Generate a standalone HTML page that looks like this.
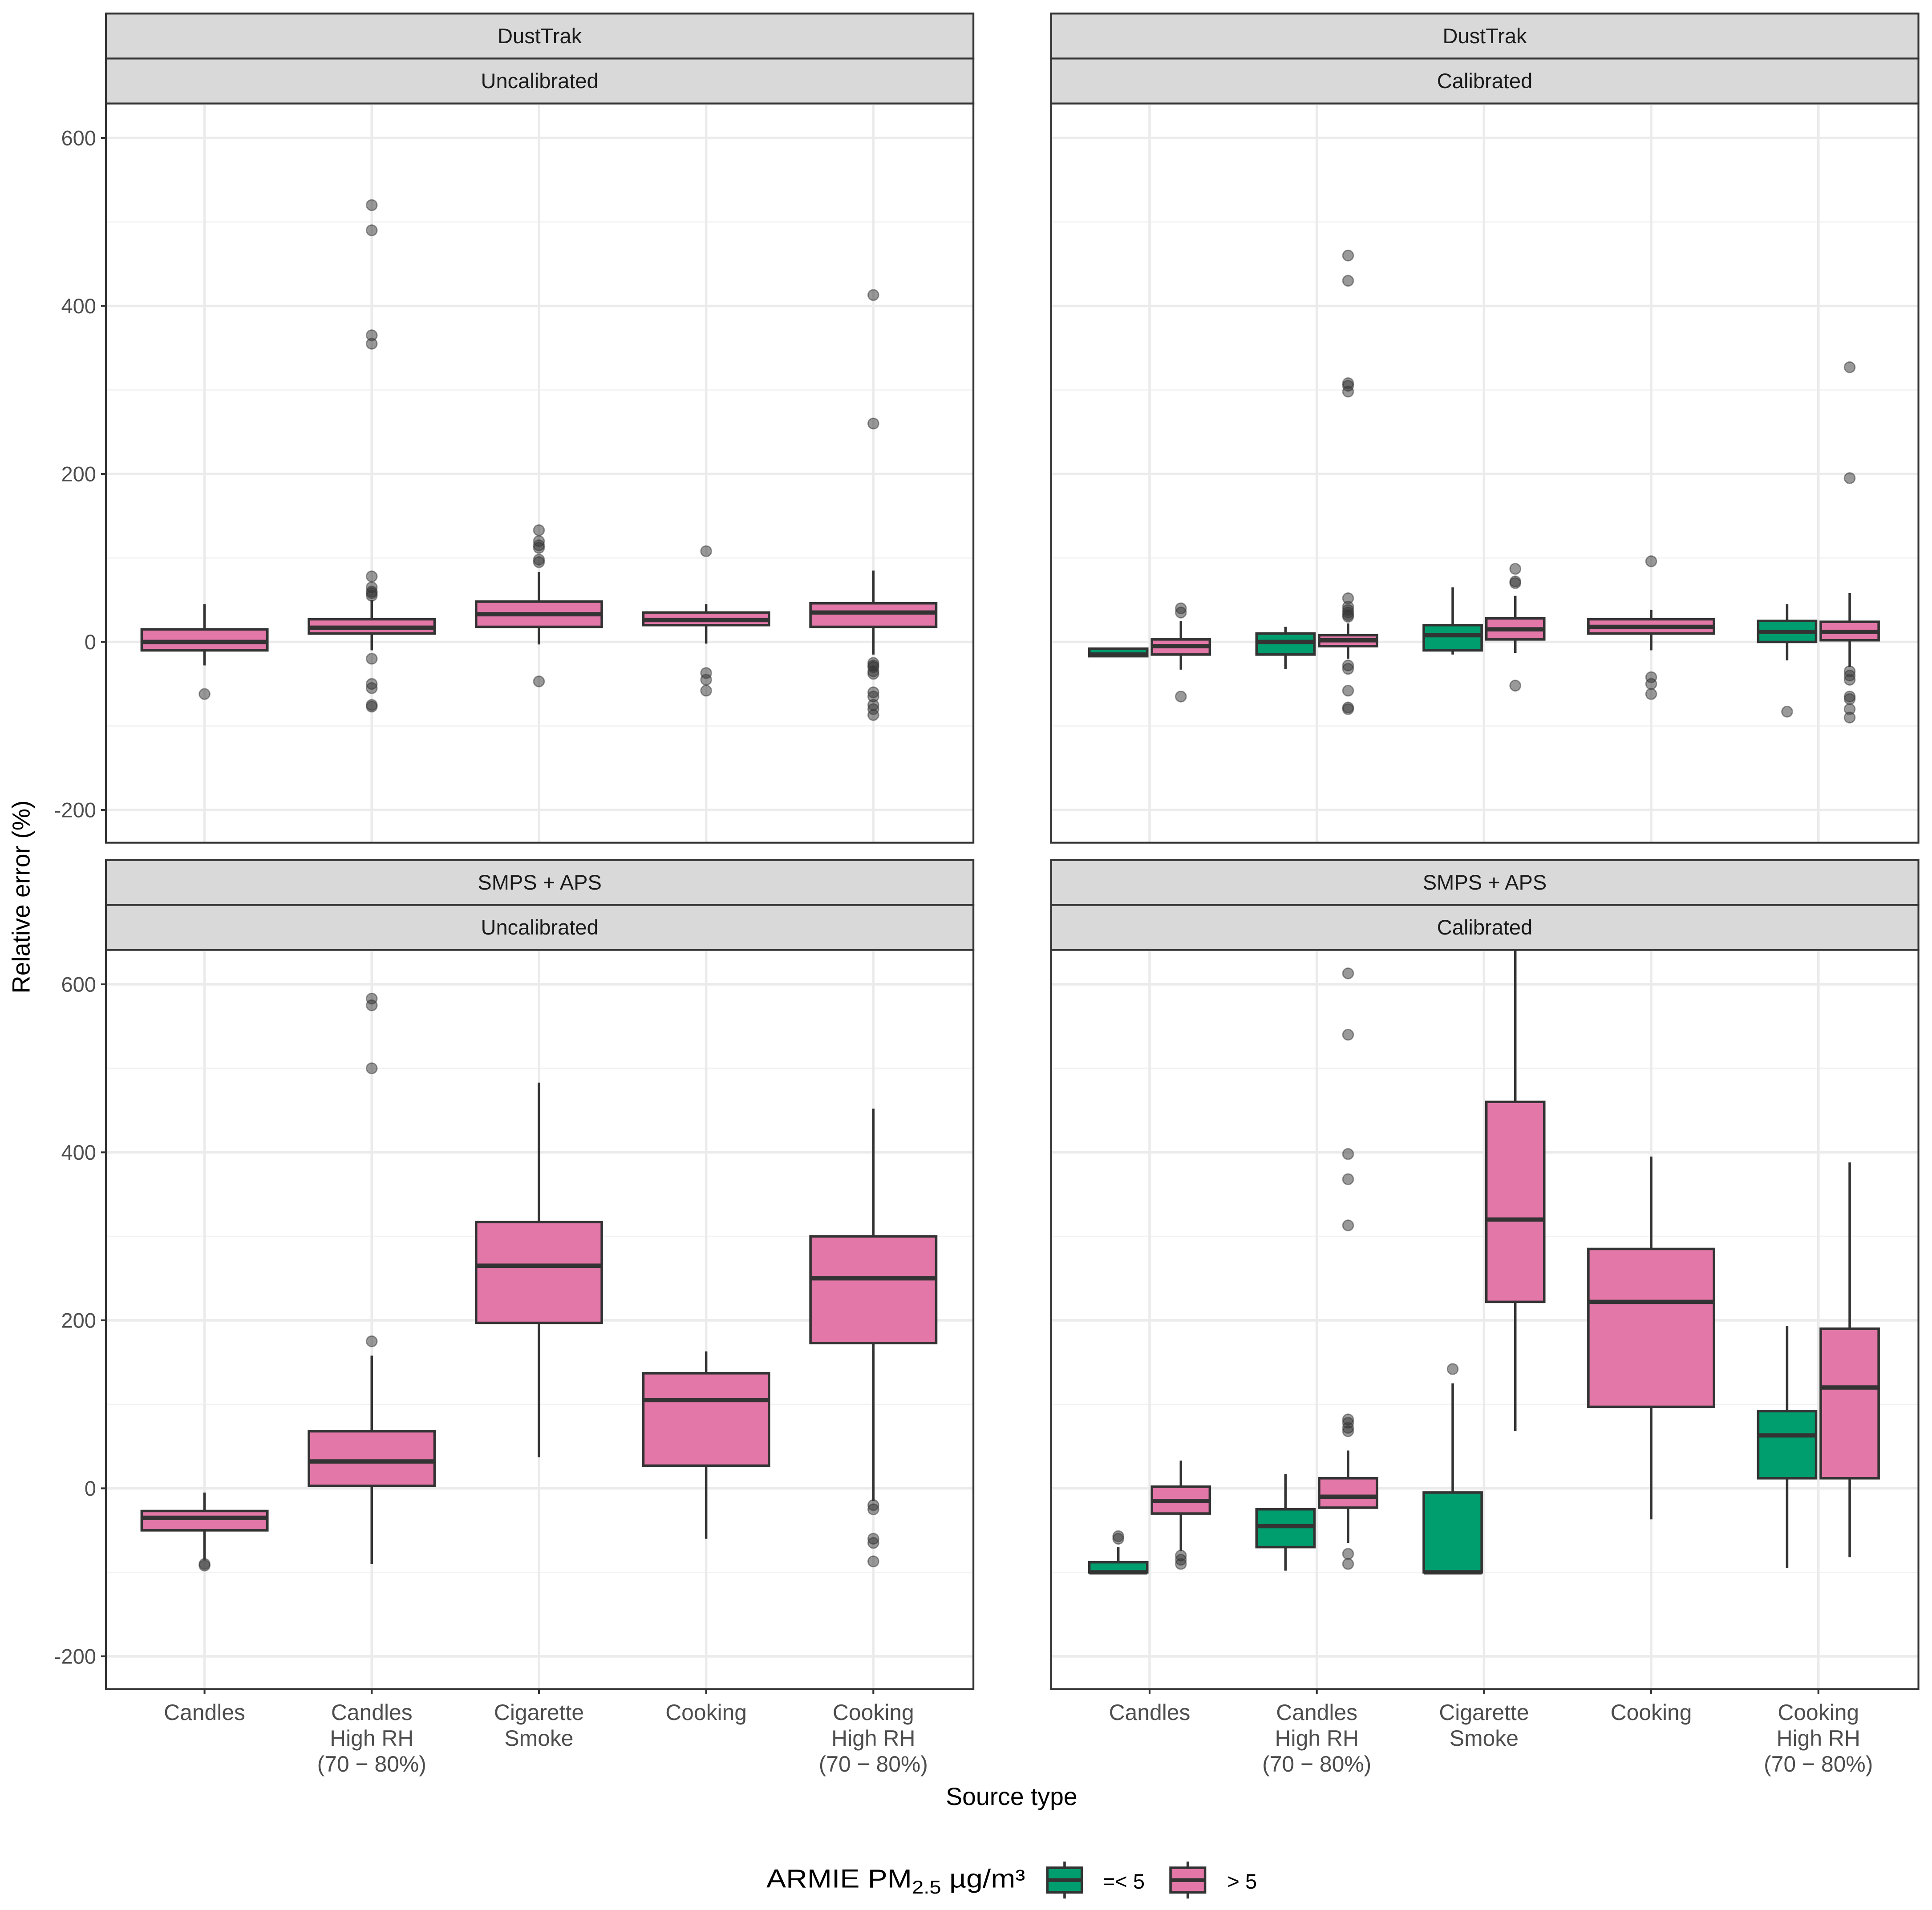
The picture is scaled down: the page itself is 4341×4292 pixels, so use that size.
<!DOCTYPE html>
<html><head><meta charset="utf-8"><style>
html,body{margin:0;padding:0;background:#fff}
svg{display:block;font-family:"Liberation Sans",sans-serif}
</style></head><body>
<svg id="chart" width="4341" height="4292" viewBox="0 0 1568 1550.3" xmlns="http://www.w3.org/2000/svg">
<rect x="0" y="0" width="1568" height="1551" fill="#fff"/>
<g id="root"></g>
<text x="24" y="728" transform="rotate(-90 24 728)" text-anchor="middle" font-size="20" fill="#000">Relative error (%)</text>
<text x="821" y="1465" text-anchor="middle" font-size="20" fill="#000">Source type</text>
<g>
<text x="622" y="1532" font-size="21" fill="#000" textLength="210" lengthAdjust="spacingAndGlyphs">ARMIE PM<tspan font-size="15" dy="5">2.5</tspan><tspan dy="-5"> µg/m³</tspan></text>
<g>
<line x1="864" y1="1511" x2="864" y2="1541" stroke="#333" stroke-width="2"/>
<rect x="850" y="1516" width="28" height="20" fill="#009e6e" stroke="#333" stroke-width="2"/>
<line x1="850" y1="1526" x2="878" y2="1526" stroke="#333" stroke-width="3"/>
<text x="895" y="1533" font-size="17" fill="#000">=&lt; 5</text></g>
<g>
<line x1="964" y1="1511" x2="964" y2="1541" stroke="#333" stroke-width="2"/>
<rect x="950" y="1516" width="28" height="20" fill="#e377a8" stroke="#333" stroke-width="2"/>
<line x1="950" y1="1526" x2="978" y2="1526" stroke="#333" stroke-width="3"/>
<text x="996" y="1533" font-size="17" fill="#000">&gt; 5</text></g>
</g>
</svg>
<script>
const categories=["Candles","Candles High RH (70 − 80%)","Cigarette Smoke","Cooking","Cooking High RH (70 − 80%)"];
const catLabels=[["Candles"],["Candles","High RH","(70 − 80%)"],["Cigarette","Smoke"],["Cooking"],["Cooking","High RH","(70 − 80%)"]];
const yTicks=[-200,0,200,400,600];
const yMinor=[-100,100,300,500];
const panelTitles=[["DustTrak","Uncalibrated"],["DustTrak","Calibrated"],["SMPS + APS","Uncalibrated"],["SMPS + APS","Calibrated"]];
const boxesTL=[[0,-1,-10,0,15,-28,45],[1,-1,10,17,27,-10,50],[2,-1,18,33,48,-3,83],[3,-1,20,26,35,-2,45],[4,-1,18,35,46,-15,85]];
const outTL=[[0,-1,[-62]],[1,-1,[520,490,365,355,78,65,60,58,55,-20,-50,-55,-75,-77]],[2,-1,[133,120,115,112,98,95,-47]],[3,-1,[108,-37,-45,-58]],[4,-1,[413,260,-25,-28,-30,-35,-38,-60,-65,-75,-80,-87]]];
const boxesTR=[[0,0,-17,-15,-8,-17,-8],[0,1,-15,-5,3,-33,25],[1,0,-15,0,10,-32,18],[1,1,-5,2,8,-20,22],[2,0,-10,8,20,-15,65],[2,1,3,15,28,-13,55],[3,-1,10,18,27,-10,38],[4,0,0,12,25,-22,45],[4,1,2,12,24,-30,58]];
const outTR=[[0,1,[40,35,-65]],[1,1,[460,430,308,305,298,52,42,38,35,32,30,-28,-32,-58,-78,-80]],[2,1,[87,72,70,-52]],[3,-1,[96,-42,-50,-62]],[4,0,[-83]],[4,1,[327,195,-35,-40,-45,-65,-68,-80,-90]]];
const boxesBL=[[0,-1,-50,-35,-27,-85,-5],[1,-1,3,32,68,-90,158],[2,-1,197,265,317,37,483],[3,-1,27,105,137,-60,163],[4,-1,173,250,300,-15,452]];
const outBL=[[0,-1,[-90,-92]],[1,-1,[583,575,500,175]],[4,-1,[-20,-25,-60,-65,-87]]];
const boxesBR=[[0,0,-100,-100,-88,-100,-70],[0,1,-30,-15,2,-75,33],[1,0,-70,-45,-25,-98,17],[1,1,-23,-10,12,-65,45],[2,0,-100,-100,-5,-100,125],[2,1,222,320,460,68,650],[3,-1,97,222,285,-37,395],[4,0,12,63,92,-95,193],[4,1,12,120,190,-82,388]];
const outBR=[[0,0,[-57,-60]],[0,1,[-80,-85,-90]],[1,1,[613,540,398,368,313,82,78,72,68,-78,-90]],[2,0,[142]]];
const panelBoxes=[boxesTL,boxesTR,boxesBL,boxesBR];
const panelOuts=[outTL,outTR,outBL,outBR];

const NS="http://www.w3.org/2000/svg";
const root=document.getElementById('root');
function mk(tag,attrs,parent){const e=document.createElementNS(NS,tag);for(const k in attrs)e.setAttribute(k,attrs[k]);(parent||root).appendChild(e);return e;}
const colors={0:"#009e6e",1:"#e377a8","-1":"#e377a8"};
const panels=[{x:86,y:11},{x:853,y:11},{x:86,y:698},{x:853,y:698}];
const PW=704, PH=600, STRIP=36.5;
const yMax=641, yMin=-239;
panels.forEach((p,pi)=>{
  const g=mk('g',{});
  
  
  const top=p.y+2*STRIP, bot=top+PH;
  const ys=v=>bot-(v-yMin)/(yMax-yMin)*PH;
  const xs=i=>p.x+80+i*135.7;
  const cid='clip'+pi;
  const cp=mk('clipPath',{id:cid},g);mk('rect',{x:p.x,y:top,width:PW,height:PH},cp);
  panelTitles[pi].forEach((t,k)=>{
    const sy=p.y+k*STRIP;
    const r=mk('rect',{x:p.x,y:sy,width:PW,height:STRIP,fill:"#d9d9d9",stroke:"#333","stroke-width":1.5},g);
    
    
    const tx=mk('text',{x:p.x+PW/2,y:sy+24,'text-anchor':'middle','font-size':17,fill:'#1a1a1a'},g);
    tx.textContent=t;
    
    
  });
  yMinor.forEach(v=>mk('line',{x1:p.x,x2:p.x+PW,y1:ys(v),y2:ys(v),stroke:"#f2f2f2","stroke-width":1},g));
  yTicks.forEach(v=>mk('line',{x1:p.x,x2:p.x+PW,y1:ys(v),y2:ys(v),stroke:"#ebebeb","stroke-width":2},g));
  categories.forEach((c,i)=>mk('line',{x1:xs(i),x2:xs(i),y1:top,y2:bot,stroke:"#ebebeb","stroke-width":2},g));
  const clipped=mk('g',{'clip-path':'url(#'+cid+')'},g);
  panelBoxes[pi].forEach(b=>{
    const [ci,grp,q1,md,q3,lo,hi]=b;
    const cx=xs(ci)+(grp===-1?0:(grp===0?-25.4:25.4));
    const w=grp===-1?102:47;
    const bg=mk('g',{},clipped);
    
    
    mk('line',{x1:cx,x2:cx,y1:ys(hi),y2:ys(q3),stroke:"#333","stroke-width":2},bg);
    mk('line',{x1:cx,x2:cx,y1:ys(q1),y2:ys(lo),stroke:"#333","stroke-width":2},bg);
    mk('rect',{x:cx-w/2,y:ys(q3),width:w,height:Math.max(0.5,ys(q1)-ys(q3)),fill:colors[grp],stroke:"#333","stroke-width":2},bg);
    mk('line',{x1:cx-w/2,x2:cx+w/2,y1:ys(md),y2:ys(md),stroke:"#333","stroke-width":3.5},bg);
  });
  panelOuts[pi].forEach(o=>{
    const [ci,grp,vals]=o;
    const cx=xs(ci)+(grp===-1?0:(grp===0?-25.4:25.4));
    vals.forEach(v=>{
      const c=mk('circle',{cx:cx,cy:ys(v),r:4.3,fill:"rgba(51,51,51,0.5)",stroke:"rgba(51,51,51,0.5)","stroke-width":1},clipped);
      
      
    });
  });
  mk('rect',{x:p.x,y:top,width:PW,height:PH,fill:"none",stroke:"#333","stroke-width":1.5},g);
  if(pi%2===0){
    yTicks.forEach(v=>{
      mk('line',{x1:p.x-4,x2:p.x,y1:ys(v),y2:ys(v),stroke:"#333","stroke-width":1.5},g);
      const t=mk('text',{x:p.x-8,y:ys(v)+6,'text-anchor':'end','font-size':17,fill:'#4d4d4d'},g);
      t.textContent=v;
      
      
    });
  }
  if(pi>=2){
    categories.forEach((c,i)=>{
      mk('line',{x1:xs(i),x2:xs(i),y1:bot,y2:bot+4,stroke:"#333","stroke-width":1.5},g);
      catLabels[i].forEach((ln,k)=>{
        const t=mk('text',{x:xs(i),y:bot+25+k*21,'text-anchor':'middle','font-size':18,fill:'#4d4d4d'},g);
        t.textContent=ln;
        
        
      });
    });
  }
});
</script>
</body></html>
